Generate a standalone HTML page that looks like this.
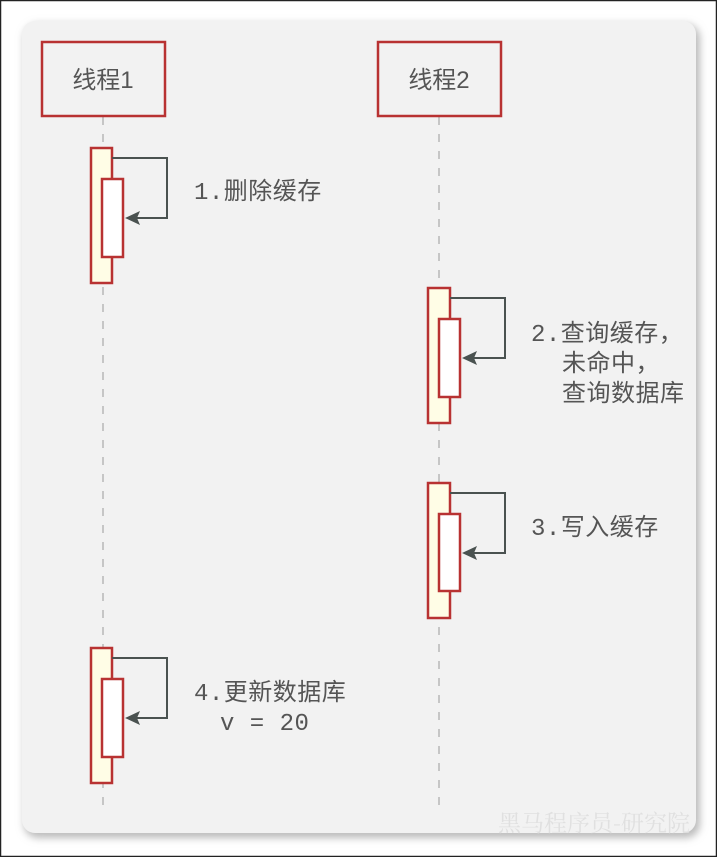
<!DOCTYPE html>
<html><head><meta charset="utf-8"><style>
html,body{margin:0;padding:0;background:#fff;}
body{width:717px;height:857px;overflow:hidden;}
svg{display:block}
text{font-family:"Liberation Mono","Noto Sans CJK SC",monospace;fill:#555;font-size:24px;letter-spacing:0.5px;}
</style></head><body>
<svg width="717" height="857" viewBox="0 0 717 857" xmlns="http://www.w3.org/2000/svg">
<defs>
<filter id="sh" x="-10%" y="-10%" width="120%" height="120%"><feGaussianBlur stdDeviation="4"/></filter>
</defs>
<rect x="0.5" y="0.5" width="716" height="856" fill="#fff" stroke="#222" stroke-width="1.5"/>
<rect x="24" y="24" width="676" height="814" rx="14" fill="#bbb" filter="url(#sh)"/>
<rect x="22" y="21" width="674" height="812" rx="13" fill="#f2f2f2"/>
<g stroke="#c6c6c6" stroke-width="2" stroke-dasharray="8,9">
<line x1="103" y1="117" x2="103" y2="806"/>
<line x1="439" y1="117" x2="439" y2="806"/>
</g>
<g fill="#f2f2f2" stroke="#b83232" stroke-width="2.5">
<rect x="42" y="42" width="123" height="74"/>
<rect x="378" y="42" width="123" height="74"/>
</g>
<text x="103" y="88" text-anchor="middle" style="font-family:'Liberation Sans','Noto Sans CJK SC',sans-serif;font-size:24px;letter-spacing:0">线程1</text>
<text x="439" y="88" text-anchor="middle" style="font-family:'Liberation Sans','Noto Sans CJK SC',sans-serif;font-size:24px;letter-spacing:0">线程2</text>
<g stroke="#b83232" stroke-width="2.5">
<rect x="91" y="148" width="21" height="135" fill="#fffde6"/>
<rect x="102" y="179" width="21" height="78" fill="#fff"/>
<rect x="428" y="288" width="22" height="135" fill="#fffde6"/>
<rect x="439" y="319" width="21" height="78" fill="#fff"/>
<rect x="428" y="483" width="22" height="135" fill="#fffde6"/>
<rect x="439" y="514" width="21" height="77" fill="#fff"/>
<rect x="91" y="648" width="21" height="135" fill="#fffde6"/>
<rect x="102" y="679" width="21" height="78" fill="#fff"/>
</g>
<g fill="none" stroke="#4a5250" stroke-width="2">
<path d="M112,158 H167 V218 H136"/>
<path d="M450,298 H505 V358 H473"/>
<path d="M450,493 H505 V553 H473"/>
<path d="M112,658 H167 V718 H136"/>
</g>
<g fill="#4a5250">
<polygon points="125,218 140,211 137,218 140,225"/>
<polygon points="462,358 477,351 474,358 477,365"/>
<polygon points="462,553 477,546 474,553 477,560"/>
<polygon points="125,718 140,711 137,718 140,725"/>
</g>
<text x="194" y="199">1.删除缓存</text>
<text x="531" y="341">2.查询缓存，</text>
<text x="562" y="371">未命中，</text>
<text x="562" y="401">查询数据库</text>
<text x="531" y="535">3.写入缓存</text>
<text x="194" y="700">4.更新数据库</text>
<text x="220" y="730">v = 20</text>
<text x="690" y="831" text-anchor="end" style="font-family:'Noto Serif CJK SC',serif;font-size:23px;fill:#e0e0e0;letter-spacing:0">黑马程序员-研究院</text>
</svg>
</body></html>
